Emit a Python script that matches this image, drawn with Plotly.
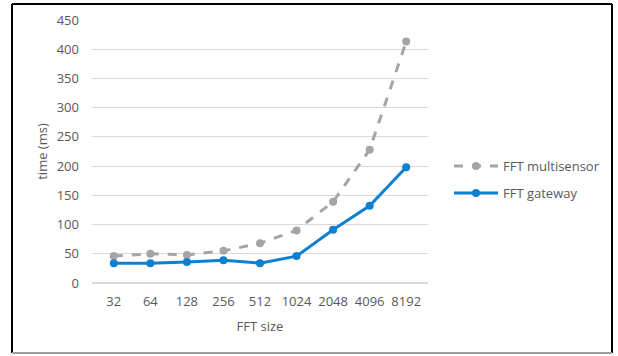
import plotly.graph_objects as go

categories = ["32", "64", "128", "256", "512", "1024", "2048", "4096", "8192"]
multisensor = [46, 50, 48, 55, 68, 90, 139, 228, 413]
gateway = [34, 34, 36, 39, 34, 46, 91, 132, 198]
y_ticks = [0, 50, 100, 150, 200, 250, 300, 350, 400, 450]

W, H = 618, 356
L, R, T, B = 92, 190, 20, 73
pw, ph = W - L - R, H - T - B

def px(x):
    return (x - L) / pw

def py(y):
    return 1 - (y - T) / ph

fig = go.Figure()
fig.add_trace(go.Scatter(
    x=categories, y=multisensor, name="FFT multisensor", mode="lines+markers",
    line=dict(color="#a5a5a5", width=3, dash="dash"),
    marker=dict(color="#a5a5a5", size=8),
    legend="legend",
))
fig.add_trace(go.Scatter(
    x=categories, y=gateway, name="FFT gateway", mode="lines+markers",
    line=dict(color="#0f7fcf", width=3),
    marker=dict(color="#0f7fcf", size=8),
    legend="legend2",
))

font = dict(family="Open Sans, DejaVu Sans", size=13, color="#595959")

fig.update_layout(
    width=W, height=H,
    margin=dict(l=L, r=R, t=T, b=B),
    paper_bgcolor="white", plot_bgcolor="white",
    font=font,
    showlegend=True,
    legend=dict(x=px(449), y=py(166), xanchor="left", yanchor="middle",
                font=font, bgcolor="rgba(0,0,0,0)", itemwidth=44),
    legend2=dict(x=px(449), y=py(193), xanchor="left", yanchor="middle",
                 font=font, bgcolor="rgba(0,0,0,0)", itemwidth=44),
    xaxis=dict(type="category", showgrid=False, showline=False, zeroline=False,
               ticks="", tickfont=font, ticklabelstandoff=9,
               title=dict(text="FFT size", font=font, standoff=12)),
    yaxis=dict(range=[0, 450], tickvals=y_ticks, showgrid=True, gridcolor="#d9d9d9",
               gridwidth=1, zeroline=True, zerolinecolor="#d9d9d9", showline=False,
               ticks="", tickfont=font, ticklabelstandoff=12,
               title=dict(text="time (ms)", font=font, standoff=6)),
)

# Outer frame
x0, x1, y0, y1 = px(12), px(612), py(4), py(353)
for (xa, ya, xb, yb, c) in [
    (x0, y0, x1, y0, "black"),
    (x0, y0, x0, y1, "black"),
    (x1, y0, x1, y1, "black"),
    (x0, y1, x1, y1, "#a0a0a0"),
]:
    fig.add_shape(type="line", xref="paper", yref="paper", x0=xa, y0=ya, x1=xb, y1=yb,
                  line=dict(color=c, width=2))

fig.write_html("out.html", config={"displayModeBar": False},
               post_script="document.body.style.margin='0';")
